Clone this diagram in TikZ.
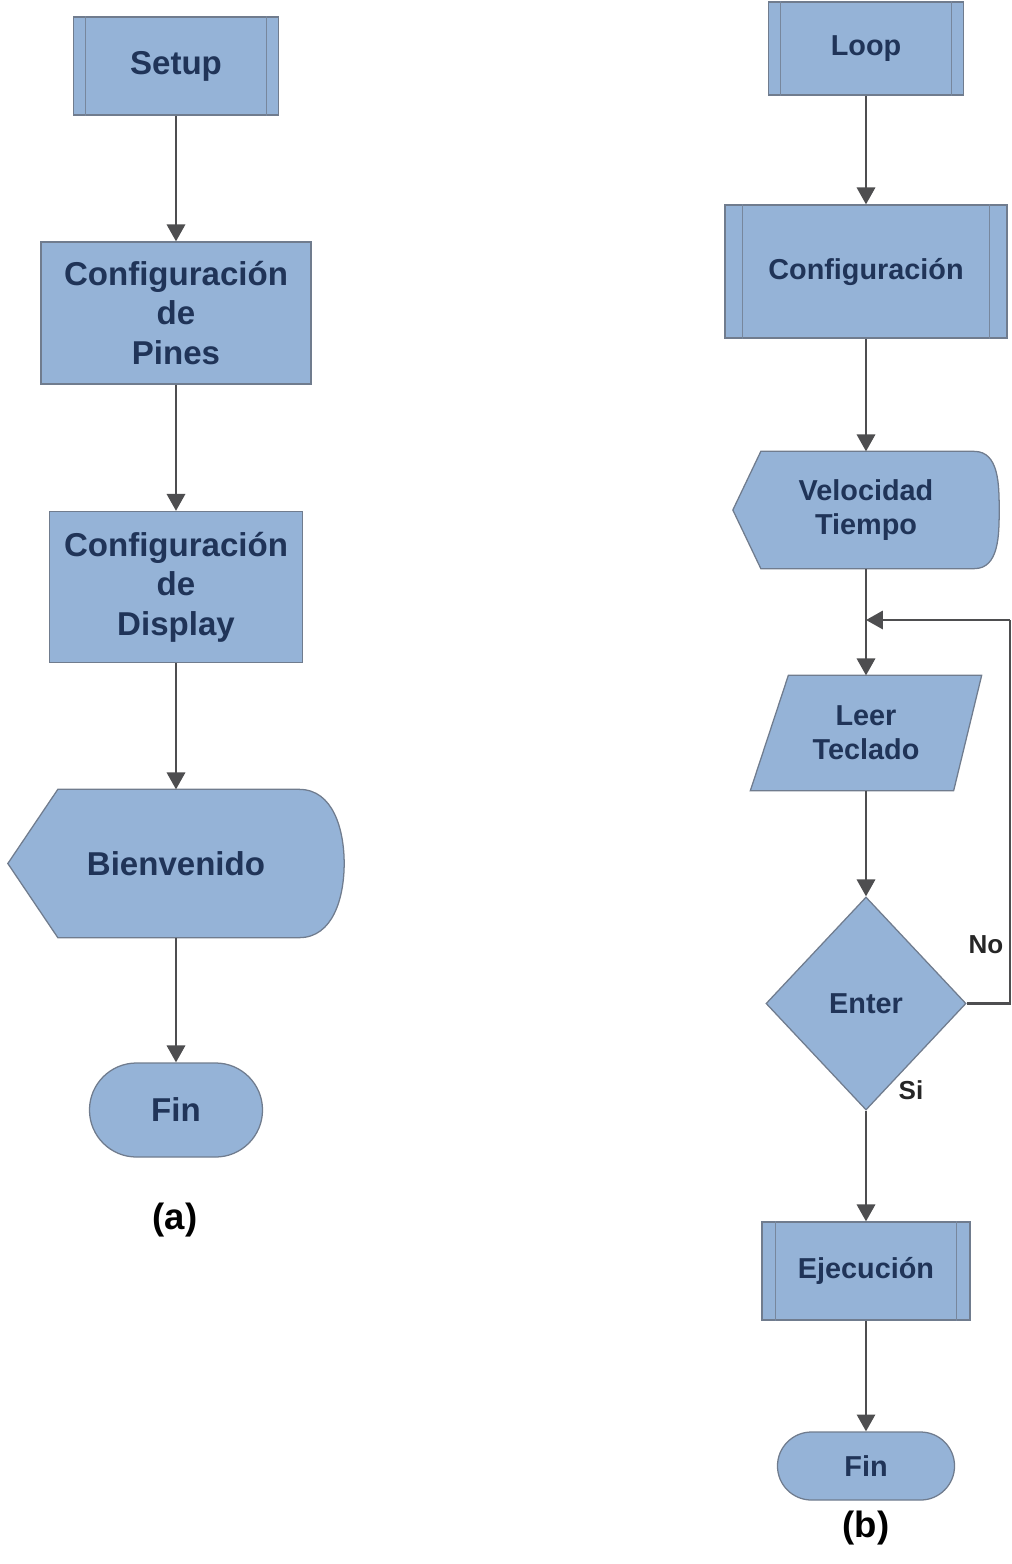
\documentclass[tikz,border=0pt]{standalone}
\usepackage{fontspec}
\setmainfont{Liberation Sans}
\usetikzlibrary{
  shapes.geometric,
  shapes.misc,
  backgrounds,
  calc,
  arrows.meta
}
\definecolor{cajaazul}{RGB}{149,179,215}
\definecolor{bordegris}{RGB}{112,124,142}
\definecolor{textoazul}{RGB}{32,52,88}
\definecolor{lineagris}{RGB}{78,78,80}

\begin{document}
\begin{tikzpicture}[x=0.025cm,y=-0.025cm]
  \tikzset{
    bloque/.style = {
      draw=bordegris, fill=cajaazul, line width=0.9pt,
      text=textoazul, align=center, inner sep=0pt,
      font=\bfseries\fontsize{23.5}{28}\selectfont
    },
    bloqueder/.style = {bloque, font=\bfseries\fontsize{20.5}{24}\selectfont},
    sinborde/.style = {bloque, draw=none, fill=none},
    sinbordeder/.style = {bloqueder, draw=none, fill=none},
    forma/.style = {draw=bordegris, fill=cajaazul, line width=0.9pt},
    interna/.style = {draw=bordegris!80!cajaazul, line width=0.6pt},
    flecha/.style = {draw=lineagris, line width=1.7pt,
      -{Triangle[length=12pt,width=13pt]}},
    linea/.style = {draw=lineagris, line width=1.7pt},
    etiq/.style = {text=black!85, font=\bfseries\fontsize{18.5}{22}\selectfont},
    titulo/.style = {text=black, font=\bfseries\fontsize{26}{30}\selectfont}
  }
  \useasboundingbox (0,0) rectangle (1012,1564);

  % (a) setup
  \node[bloque, minimum width=5.125cm, minimum height=2.45cm] (setup) at (176,66) {Setup};
  \node[bloque, minimum width=6.75cm, minimum height=3.55cm] (pines) at (176,313)
    {Configuración\\de\\Pines};
  \node[bloque, minimum width=6.325cm, minimum height=3.775cm] (disp) at (176,587)
    {Configuración\\de\\Display};
  \node[sinborde, minimum width=8.375cm, minimum height=3.675cm] (bienv) at (176,863.5)
    {Bienvenido};
  \node[bloque, rounded rectangle, minimum width=4.325cm, minimum height=2.35cm] (fina)
    at (176,1110) {Fin};
  \node[titulo] (lbla) at (175,1220) {(a)};

  % (b) loop
  \node[bloqueder, minimum width=4.875cm, minimum height=2.325cm] (loop) at (866,48.5) {Loop};
  \node[bloqueder, minimum width=7.05cm, minimum height=3.325cm] (config) at (866,271.5)
    {Configuración};
  \node[sinbordeder, minimum width=6.625cm, minimum height=2.9cm] (vel) at (866,510)
    {Velocidad\\Tiempo};
  \node[sinbordeder, minimum width=5.75cm, minimum height=2.85cm] (leer) at (866,733)
    {Leer\\Teclado};
  \node[bloqueder, diamond, aspect=0.939,
    minimum width=5cm, minimum height=5.325cm] (enter) at (866,1003.5) {Enter};
  \node[bloqueder, minimum width=5.2cm, minimum height=2.45cm] (ejec) at (866,1271)
    {Ejecución};
  \node[bloqueder, rounded rectangle, minimum width=4.425cm, minimum height=1.7cm] (finb)
    at (866,1466) {Fin};
  \node[titulo] (lblb) at (866,1528) {(b)};

  \node[etiq] (no) at (986,945) {No};
  \node[etiq] (si) at (911,1090) {Si};

  % outlines drawn behind the text
  \begin{scope}[on background layer]
    \foreach \n/\p/\r in {bienv/50/45, vel/28/25}
    \path[forma]
    (\n.west) -- ($(\n.north west)+(\p,0)$) -- ($(\n.north east)+(-\r,0)$)
    to[out=0,in=90] (\n.east) to[out=-90,in=0] ($(\n.south east)+(-\r,0)$)
    -- ($(\n.south west)+(\p,0)$) -- cycle
    ;
    \path[forma]
    ($(leer.north west)+(38,0)$) -- (leer.north east)
    -- ($(leer.south east)+(-28,0)$) -- (leer.south west) -- cycle
    ;
  \end{scope}

  % inner lines of the subprocess boxes
  \foreach \n/\d in {setup/13,loop/13,config/18,ejec/14}
  \path[interna]
  ($(\n.north west)+(\d,0)$) -- ($(\n.south west)+(\d,0)$)
  ($(\n.north east)+(-\d,0)$) -- ($(\n.south east)+(-\d,0)$)
  ;

  % straight links
  \foreach \a/\b in {setup/pines,pines/disp,disp/bienv,bienv/fina,
    loop/config,config/vel,vel/leer,leer/enter,enter/ejec,ejec/finb}
  \path[flecha] (\a.south) -- (\b.north);

  % No branch back up to the keyboard read
  \coordinate (junta) at (866,620);
  \coordinate (esq) at (1010,620);
  \path[linea] (enter.east) -| (esq);
  \path[flecha] (esq) -- (junta);
\end{tikzpicture}
\end{document}
